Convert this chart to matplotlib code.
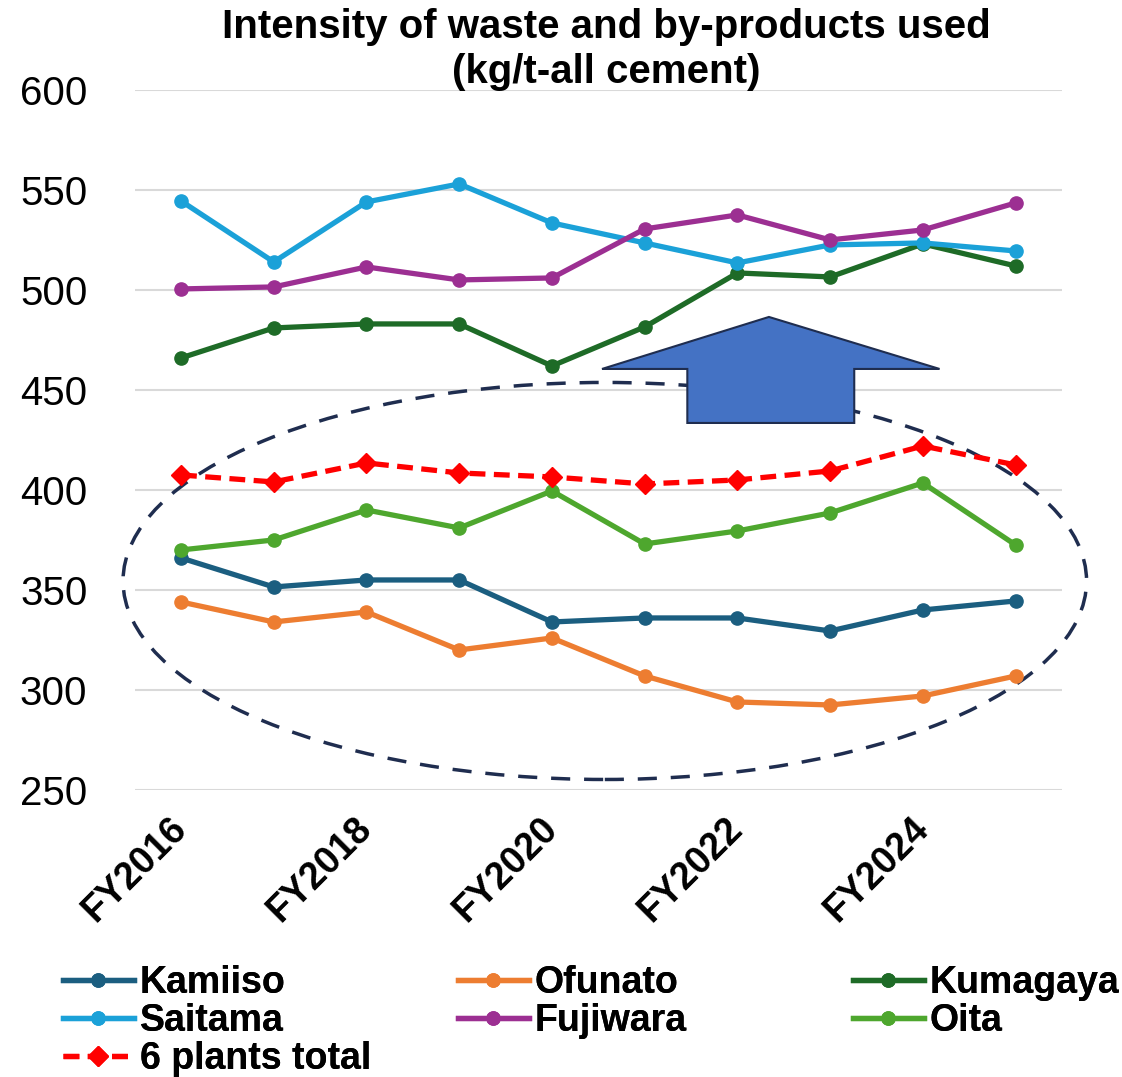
import matplotlib
matplotlib.use("Agg")
import matplotlib.pyplot as plt
from matplotlib.patches import Ellipse, Polygon

plt.rcParams['font.family'] = ['Liberation Sans', 'DejaVu Sans']

# données
years = ["FY2016", "FY2017", "FY2018", "FY2019", "FY2020",
         "FY2021", "FY2022", "FY2023", "FY2024", "FY2025"]
kamiiso = [366, 351.5, 355, 355, 334, 336, 336, 329.5, 340, 344.5]
ofunato = [344, 334, 339, 320, 326, 307, 294, 292.5, 297, 307]
kumagaya = [466, 481, 483, 483, 462, 481.5, 508.5, 506.5, 523, 512]
saitama = [544.5, 514, 544, 553, 533.5, 523.5, 513.5, 522.5, 523.5, 519.5]
fujiwara = [500.5, 501.5, 511.5, 505, 506, 530.5, 537.5, 525, 530, 543.5]
oita = [370, 375, 390, 381, 399.5, 373, 379.5, 388.5, 403.5, 372.5]
total = [407.5, 404, 413.5, 408.5, 406.5, 403, 405, 409.5, 422, 412.5]

series = [
    ("Kamiiso", kamiiso, "#1b5e80"),
    ("Ofunato", ofunato, "#ed7d31"),
    ("Kumagaya", kumagaya, "#1e6b27"),
    ("Saitama", saitama, "#1ba1d8"),
    ("Fujiwara", fujiwara, "#9c2f92"),
    ("Oita", oita, "#4ea72e"),
]

fig = plt.figure(figsize=(11.22, 10.77), dpi=100)
ax = fig.add_axes([0.120, 0.2665, 0.8265, 0.65])

x = list(range(len(years)))
lignes = {}
for nom, vals, coul in series:
    l, = ax.plot(x, vals, color=coul, lw=3.8, marker="o", ms=9.5, label=nom, zorder=3)
    lignes[nom] = l
l, = ax.plot(x, total, color="#ff0000", lw=3.8, ls=(0, (3, 1.6)), marker="D",
             ms=10.5, label="6 plants total", zorder=4)
lignes["6 plants total"] = l

# ellipse en pointillés
ell = Ellipse((4.57, 354.5), 10.39, 198.5, fill=False, ec="#1f2d4f", lw=2.5,
              ls=(0, (5.5, 4)), clip_on=False, zorder=2)
ax.add_patch(ell)

# flèche bleue
fleche = Polygon([(6.34, 486.5), (8.18, 460.5), (7.26, 460.5), (7.26, 433.5),
                  (5.46, 433.5), (5.46, 460.5), (4.54, 460.5)], closed=True,
                 fc="#4472c4", ec="#1f2d4f", lw=1.5, zorder=2.5)
ax.add_patch(fleche)

ax.set_xlim(-0.5, 9.5)
ax.set_ylim(250, 600)
ax.set_yticks(range(250, 601, 50))
ax.set_xticks(x[::2])
ax.set_xticklabels(years[::2], rotation=45, ha="right", va="center",
                   rotation_mode="anchor", fontsize=27, fontweight="bold")
ax.tick_params(axis="y", labelsize=29, length=0, pad=34)
ax.tick_params(axis="x", length=0, pad=24)
ax.yaxis.grid(True, color="#d9d9d9", lw=1.5)
ax.set_axisbelow(True)
for s in ax.spines.values():
    s.set_visible(False)

fig.text(0.54, 0.993, "Intensity of waste and by-products used\n(kg/t-all cement)",
         ha="center", va="top", fontsize=29, fontweight="bold", linespacing=1.25)

# légende en trois colonnes
colonnes = [["Kamiiso", "Saitama", "6 plants total"], ["Ofunato", "Fujiwara"],
            ["Kumagaya", "Oita"]]
xpos = [0.056, 0.408, 0.760]
for noms, xp in zip(colonnes, xpos):
    leg = fig.legend([lignes[n] for n in noms], noms, loc="upper left",
                     bbox_to_anchor=(xp, 0.104), frameon=False,
                     prop={"size": 27, "weight": "bold"}, handlelength=1.9,
                     handletextpad=0.15, labelspacing=0.05, borderpad=0,
                     borderaxespad=0)
    fig.add_artist(leg)

fig.savefig("out.png", dpi=100)
